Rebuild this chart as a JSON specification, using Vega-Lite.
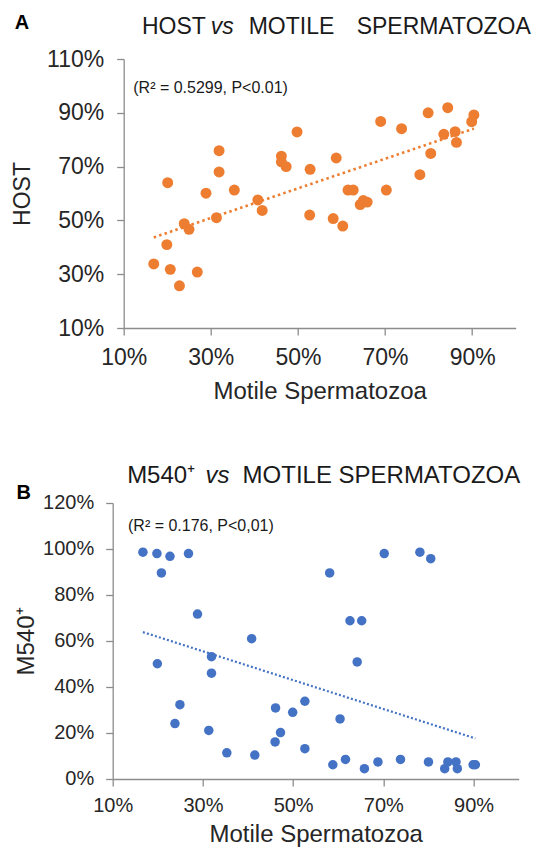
{
  "$schema": "https://vega.github.io/schema/vega-lite/v6.json",
  "padding": {"left": 10.7, "top": 12, "right": 0, "bottom": 0},
  "spacing": 60,
  "columns": 1,
  "config": {
    "font": "Liberation Sans",
    "view": {"stroke": null},
    "axis": {
      "grid": false,
      "domainColor": "#8c8c8c",
      "tickColor": "#8c8c8c",
      "domainWidth": 1.3,
      "tickWidth": 1.3,
      "tickSize": 7,
      "labelFlush": false,
      "labelColor": "#262626",
      "titleColor": "#262626",
      "titleFontWeight": "normal",
      "labelFont": "Liberation Sans",
      "titleFont": "Liberation Sans"
    },
    "text": {"font": "Liberation Sans", "color": "#1a1a1a"}
  },
  "datasets": {
    "host": [
      {"motile": 16.9, "value": 33.8}, {"motile": 19.9, "value": 41.0}, {"motile": 20.1, "value": 64.0},
      {"motile": 20.7, "value": 31.8}, {"motile": 22.8, "value": 25.7}, {"motile": 23.9, "value": 48.8},
      {"motile": 25.0, "value": 46.7}, {"motile": 26.9, "value": 30.8}, {"motile": 28.9, "value": 60.1},
      {"motile": 31.3, "value": 51.0}, {"motile": 31.9, "value": 75.9}, {"motile": 31.9, "value": 68.0},
      {"motile": 35.4, "value": 61.3}, {"motile": 40.8, "value": 57.6}, {"motile": 41.8, "value": 53.7},
      {"motile": 46.2, "value": 73.9}, {"motile": 46.2, "value": 71.8}, {"motile": 47.3, "value": 70.0},
      {"motile": 49.8, "value": 82.9}, {"motile": 52.7, "value": 52.0}, {"motile": 52.8, "value": 69.0},
      {"motile": 58.1, "value": 50.7}, {"motile": 58.8, "value": 73.2}, {"motile": 60.3, "value": 47.9},
      {"motile": 61.5, "value": 61.3}, {"motile": 62.7, "value": 61.3}, {"motile": 64.3, "value": 55.9},
      {"motile": 65.0, "value": 57.4}, {"motile": 65.9, "value": 56.8}, {"motile": 69.0, "value": 86.8},
      {"motile": 70.3, "value": 61.3}, {"motile": 73.8, "value": 84.1}, {"motile": 78.0, "value": 67.0},
      {"motile": 79.9, "value": 90.0}, {"motile": 80.5, "value": 74.9}, {"motile": 83.5, "value": 82.0},
      {"motile": 84.4, "value": 91.9}, {"motile": 86.1, "value": 83.0}, {"motile": 86.4, "value": 79.0},
      {"motile": 89.9, "value": 86.7}, {"motile": 90.4, "value": 89.2}
    ],
    "m540": [
      {"motile": 16.7, "value": 98.6}, {"motile": 19.8, "value": 98.0}, {"motile": 19.9, "value": 50.1},
      {"motile": 20.8, "value": 89.6}, {"motile": 22.7, "value": 96.8}, {"motile": 23.8, "value": 24.1},
      {"motile": 24.9, "value": 32.3}, {"motile": 26.8, "value": 98.0}, {"motile": 28.8, "value": 71.7},
      {"motile": 31.3, "value": 21.1}, {"motile": 31.9, "value": 53.2}, {"motile": 31.9, "value": 46.0},
      {"motile": 35.3, "value": 11.4}, {"motile": 40.8, "value": 61.0}, {"motile": 41.5, "value": 10.4},
      {"motile": 46.0, "value": 16.1}, {"motile": 46.1, "value": 30.9}, {"motile": 47.2, "value": 20.2},
      {"motile": 49.9, "value": 29.0}, {"motile": 52.6, "value": 33.8}, {"motile": 52.6, "value": 13.2},
      {"motile": 58.1, "value": 89.6}, {"motile": 58.8, "value": 6.2}, {"motile": 60.4, "value": 26.1},
      {"motile": 61.6, "value": 8.5}, {"motile": 62.6, "value": 68.8}, {"motile": 64.2, "value": 50.9},
      {"motile": 65.2, "value": 68.8}, {"motile": 65.8, "value": 4.5}, {"motile": 68.8, "value": 7.4},
      {"motile": 70.2, "value": 98.0}, {"motile": 73.8, "value": 8.5}, {"motile": 78.1, "value": 98.6},
      {"motile": 80.0, "value": 7.4}, {"motile": 80.5, "value": 95.8}, {"motile": 83.6, "value": 4.5},
      {"motile": 84.3, "value": 7.4}, {"motile": 86.1, "value": 7.4}, {"motile": 86.4, "value": 4.5},
      {"motile": 89.9, "value": 6.2}, {"motile": 90.4, "value": 6.2}
    ]
  },
  "concat": [
    {
      "width": 403,
      "height": 269,
      "layer": [
        {
          "data": {"name": "host"},
          "mark": {"type": "circle", "size": 120, "opacity": 1, "color": "#ED7D31"},
          "encoding": {
            "x": {"field": "motile", "type": "quantitative",
              "scale": {"domain": [10, 100], "nice": false, "range": [11, 403]},
              "axis": {"values": [10, 30, 50, 70, 90], "labelExpr": "datum.value + '%'", "title": "Motile Spermatozoa",
                "labelFontSize": 23, "labelPadding": 11, "titleFontSize": 24, "titlePadding": 10}},
            "y": {"field": "value", "type": "quantitative",
              "scale": {"domain": [10, 110], "nice": false},
              "axis": {"values": [10, 30, 50, 70, 90, 110], "labelExpr": "datum.value + '%'", "title": "HOST", "offset": -11,
                "labelFontSize": 23, "labelPadding": 13, "titleFontSize": 23, "titlePadding": 12}}
          }
        },
        {
          "data": {"name": "host"},
          "transform": [{"regression": "value", "on": "motile"}],
          "mark": {"type": "line", "color": "#ED7D31", "strokeDash": [2.5, 3.2], "strokeWidth": 2.6, "strokeCap": "butt"},
          "encoding": {
            "x": {"field": "motile", "type": "quantitative"},
            "y": {"field": "value", "type": "quantitative"}
          }
        },
        {
          "data": {"values": [{}]},
          "mark": {"type": "text", "text": "A", "fontSize": 20, "fontWeight": "bold", "align": "left", "baseline": "alphabetic", "color": "#000000"},
          "encoding": {"x": {"datum": -15.0, "type": "quantitative"}, "y": {"datum": 121.2, "type": "quantitative"}}
        },
        {
          "data": {"values": [{}]},
          "mark": {"type": "text", "text": "HOST", "fontSize": 23, "align": "left", "baseline": "alphabetic"},
          "encoding": {"x": {"datum": 14.2, "type": "quantitative"}, "y": {"datum": 119.4, "type": "quantitative"}}
        },
        {
          "data": {"values": [{}]},
          "mark": {"type": "text", "text": "vs", "fontSize": 23, "fontStyle": "italic", "align": "left", "baseline": "alphabetic"},
          "encoding": {"x": {"datum": 30.0, "type": "quantitative"}, "y": {"datum": 119.4, "type": "quantitative"}}
        },
        {
          "data": {"values": [{}]},
          "mark": {"type": "text", "text": "MOTILE", "fontSize": 23, "align": "left", "baseline": "alphabetic"},
          "encoding": {"x": {"datum": 38.7, "type": "quantitative"}, "y": {"datum": 119.4, "type": "quantitative"}}
        },
        {
          "data": {"values": [{}]},
          "mark": {"type": "text", "text": "SPERMATOZOA", "fontSize": 23, "align": "left", "baseline": "alphabetic"},
          "encoding": {"x": {"datum": 63.5, "type": "quantitative"}, "y": {"datum": 119.4, "type": "quantitative"}}
        },
        {
          "data": {"values": [{}]},
          "mark": {"type": "text", "text": "(R² = 0.5299, P<0.01)", "fontSize": 16, "align": "left", "baseline": "alphabetic"},
          "encoding": {"x": {"datum": 12.2, "type": "quantitative"}, "y": {"datum": 97.5, "type": "quantitative"}}
        }
      ]
    },
    {
      "width": 406,
      "height": 276,
      "layer": [
        {
          "data": {"name": "m540"},
          "mark": {"type": "circle", "size": 90, "opacity": 1, "color": "#4472C4"},
          "encoding": {
            "x": {"field": "motile", "type": "quantitative",
              "scale": {"domain": [10, 100], "nice": false},
              "axis": {"values": [10, 30, 50, 70, 90], "labelExpr": "datum.value + '%'", "title": "Motile Spermatozoa",
                "labelFontSize": 20, "labelPadding": 10, "titleFontSize": 24, "titlePadding": 7}},
            "y": {"field": "value", "type": "quantitative",
              "scale": {"domain": [0, 120], "nice": false},
              "axis": {"values": [0, 20, 40, 60, 80, 100, 120], "labelExpr": "datum.value + '%'", "title": "M540⁺",
                "labelFontSize": 20, "labelPadding": 12, "titleFontSize": 24, "titlePadding": 4}}
          }
        },
        {
          "data": {"name": "m540"},
          "transform": [{"regression": "value", "on": "motile"}],
          "mark": {"type": "line", "color": "#4472C4", "strokeDash": [2, 2.2], "strokeWidth": 2.2, "strokeCap": "butt"},
          "encoding": {
            "x": {"field": "motile", "type": "quantitative"},
            "y": {"field": "value", "type": "quantitative"}
          }
        },
        {
          "data": {"values": [{}]},
          "mark": {"type": "text", "text": "B", "fontSize": 20, "fontWeight": "bold", "align": "left", "baseline": "alphabetic", "color": "#000000"},
          "encoding": {"x": {"datum": -11.3, "type": "quantitative"}, "y": {"datum": 121.6, "type": "quantitative"}}
        },
        {
          "data": {"values": [{}]},
          "mark": {"type": "text", "text": "M540⁺", "fontSize": 24, "align": "left", "baseline": "alphabetic"},
          "encoding": {"x": {"datum": 13.2, "type": "quantitative"}, "y": {"datum": 128.8, "type": "quantitative"}}
        },
        {
          "data": {"values": [{}]},
          "mark": {"type": "text", "text": "vs", "fontSize": 24, "fontStyle": "italic", "align": "left", "baseline": "alphabetic"},
          "encoding": {"x": {"datum": 30.6, "type": "quantitative"}, "y": {"datum": 128.8, "type": "quantitative"}}
        },
        {
          "data": {"values": [{}]},
          "mark": {"type": "text", "text": "MOTILE SPERMATOZOA", "fontSize": 24, "align": "left", "baseline": "alphabetic"},
          "encoding": {"x": {"datum": 38.8, "type": "quantitative"}, "y": {"datum": 128.8, "type": "quantitative"}}
        },
        {
          "data": {"values": [{}]},
          "mark": {"type": "text", "text": "(R² = 0.176, P<0,01)", "fontSize": 16, "align": "left", "baseline": "alphabetic"},
          "encoding": {"x": {"datum": 13.4, "type": "quantitative"}, "y": {"datum": 107.8, "type": "quantitative"}}
        }
      ]
    }
  ]
}
